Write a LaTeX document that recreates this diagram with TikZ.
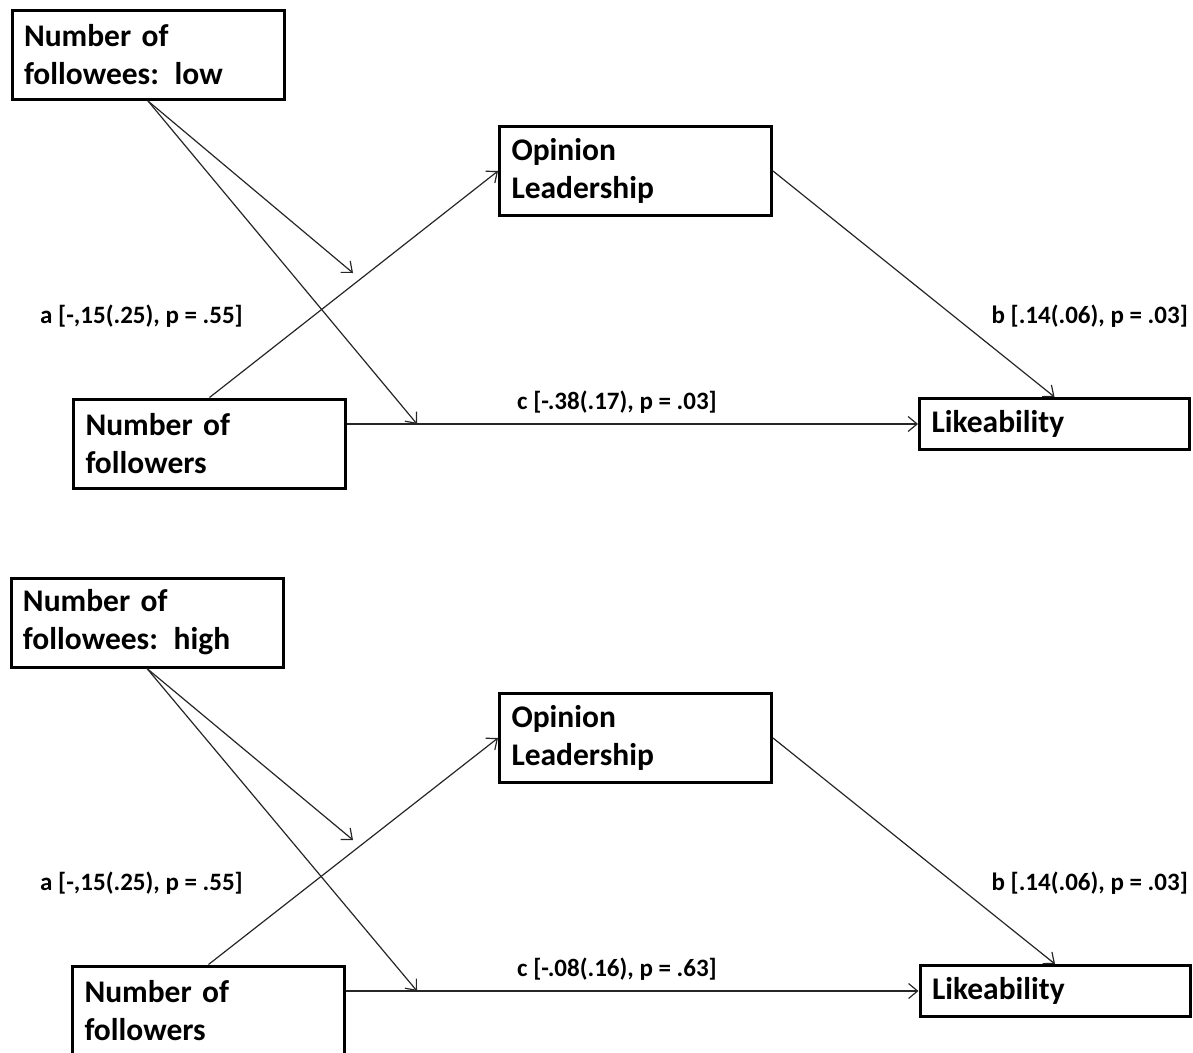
\documentclass[tikz,border=0pt]{standalone}
\usepackage{fontspec}
\setmainfont{Carlito}
\usetikzlibrary{positioning, arrows.meta}
\tikzset{
    >={Straight Barb[length=9pt, width=15pt]}, % open arrow heads as in the original
    link/.style={->, line width=1.2pt, draw=black!85}, % the thin connectors
    var/.style={draw, line width=3pt, align=left, inner xsep=12pt, inner ysep=0pt,
        text width=248pt, minimum height=89pt, font=\bfseries\fontsize{31.5}{38}\selectfont}, % variable boxes
    small var/.style={var, text width=246pt, minimum height=51pt},
    coef/.style={font=\bfseries\fontsize{25}{30}\selectfont, inner sep=0pt}, % path coefficients
    }

\begin{document}
\begin{tikzpicture}[x=1pt, y=-1pt]
        \useasboundingbox (0,0) rectangle (1193,1052);
        \clip (0,0) rectangle (1193,1052);

        % followees: low
        \node[var] (low) at (148,55) {Number of\\followees: low};
        \node[var] (op1) at (635.5,171) {Opinion\\Leadership};
        \node[var] (fr1) at (209.5,443.5) {Number of\\followers};
        \node[small var] (lk1) at (1054.5,424) {Likeability};
        \coordinate (ma1) at (353,273);
        \coordinate (mc1) at (417,424);

        \node[coef, anchor=west] (a1) at (40,316) {a [-,15(.25), p = .55]};
        \node[coef, anchor=east] (b1) at (1188,316) {b [.14(.06), p = .03]};
        \node[coef] (c1) at (617,402) {c [-.38(.17), p = .03]};

        \draw[link] (low.south) -- (ma1);
        \draw[link] (low.south) -- (mc1);
        \draw[link] (fr1.north) -- (op1.west);
        \draw[link] (fr1.east |- lk1.west) -- (lk1.west);
        \draw[link] (op1.east) -- (lk1.north);

        % followees: high
        \node[var] (high) at (147,622.5) {Number of\\followees: high};
        \node[var] (op2) at (635.5,738) {Opinion\\Leadership};
        \node[var] (fr2) at (208.5,1010.5) {Number of\\followers};
        \node[small var] (lk2) at (1055,991) {Likeability};
        \coordinate (ma2) at (353,840);
        \coordinate (mc2) at (417,991);

        \node[coef, anchor=west] (a2) at (40,883) {a [-,15(.25), p = .55]};
        \node[coef, anchor=east] (b2) at (1188,883) {b [.14(.06), p = .03]};
        \node[coef] (c2) at (617,969) {c [-.08(.16), p = .63]};

        \draw[link] (high.south) -- (ma2);
        \draw[link] (high.south) -- (mc2);
        \draw[link] (fr2.north) -- (op2.west);
        \draw[link] (fr2.east |- lk2.west) -- (lk2.west);
        \draw[link] (op2.east) -- (lk2.north);
    \end{tikzpicture}
\end{document}
